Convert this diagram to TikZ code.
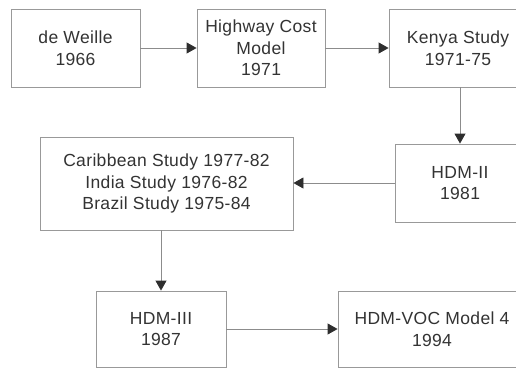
\documentclass[tikz,border=0pt]{standalone}
\usepackage{fontspec}
\setmainfont[LetterSpace=2]{Liberation Sans}
\usetikzlibrary{arrows.meta}
\definecolor{boxgray}{HTML}{999999}
\definecolor{linegray}{HTML}{8C8C8C}
\definecolor{headgray}{HTML}{2E2E2E}
\definecolor{textgray}{HTML}{333333}
\begin{document}
\begin{tikzpicture}[x=1pt,y=-1pt,
  box/.style={draw=boxgray, line width=0.9pt, inner sep=0pt, align=center,
    text=textgray, font=\fontsize{17.5}{21.5}\selectfont},
  conn/.style={draw=linegray, line width=0.9pt,
    -{Triangle[length=10pt,width=11pt,fill=headgray,color=headgray]}}]
\useasboundingbox (0,0) rectangle (516,369);
\clip (0,0) rectangle (516,369);
\fill[white] (0,0) rectangle (516,369);
\node[box, minimum width=129pt, minimum height=78pt] (dw) at (75.5,48) {de Weille\\1966};
\node[box, minimum width=128pt, minimum height=78pt] (hc) at (261,48) {Highway Cost\\Model\\1971};
\node[box, minimum width=138pt, minimum height=78pt] (ke) at (458,48) {Kenya Study\\1971-75};
\node[box, minimum width=130pt, minimum height=78pt] (h2) at (460,183) {HDM-II\\1981};
\node[box, minimum width=253pt, minimum height=93pt] (ca) at (166.5,183.5) {Caribbean Study 1977-82\\India Study 1976-82\\Brazil Study 1975-84};
\node[box, minimum width=130pt, minimum height=76pt] (h3) at (161,329) {HDM-III\\1987};
\node[box, minimum width=188pt, minimum height=76pt] (hv) at (432,329) {HDM-VOC Model 4\\1994};
\draw[conn] (dw.east) -- (hc.west);
\draw[conn] (hc.east) -- (ke.west);
\draw[conn] (ke.south -| h2) -- (h2.north);
\draw[conn] (h2.west) -- (h2.west -| ca.east);
\draw[conn] (ca.south -| h3) -- (h3.north);
\draw[conn] (h3.east) -- (h3.east -| hv.west);
\end{tikzpicture}
\end{document}
